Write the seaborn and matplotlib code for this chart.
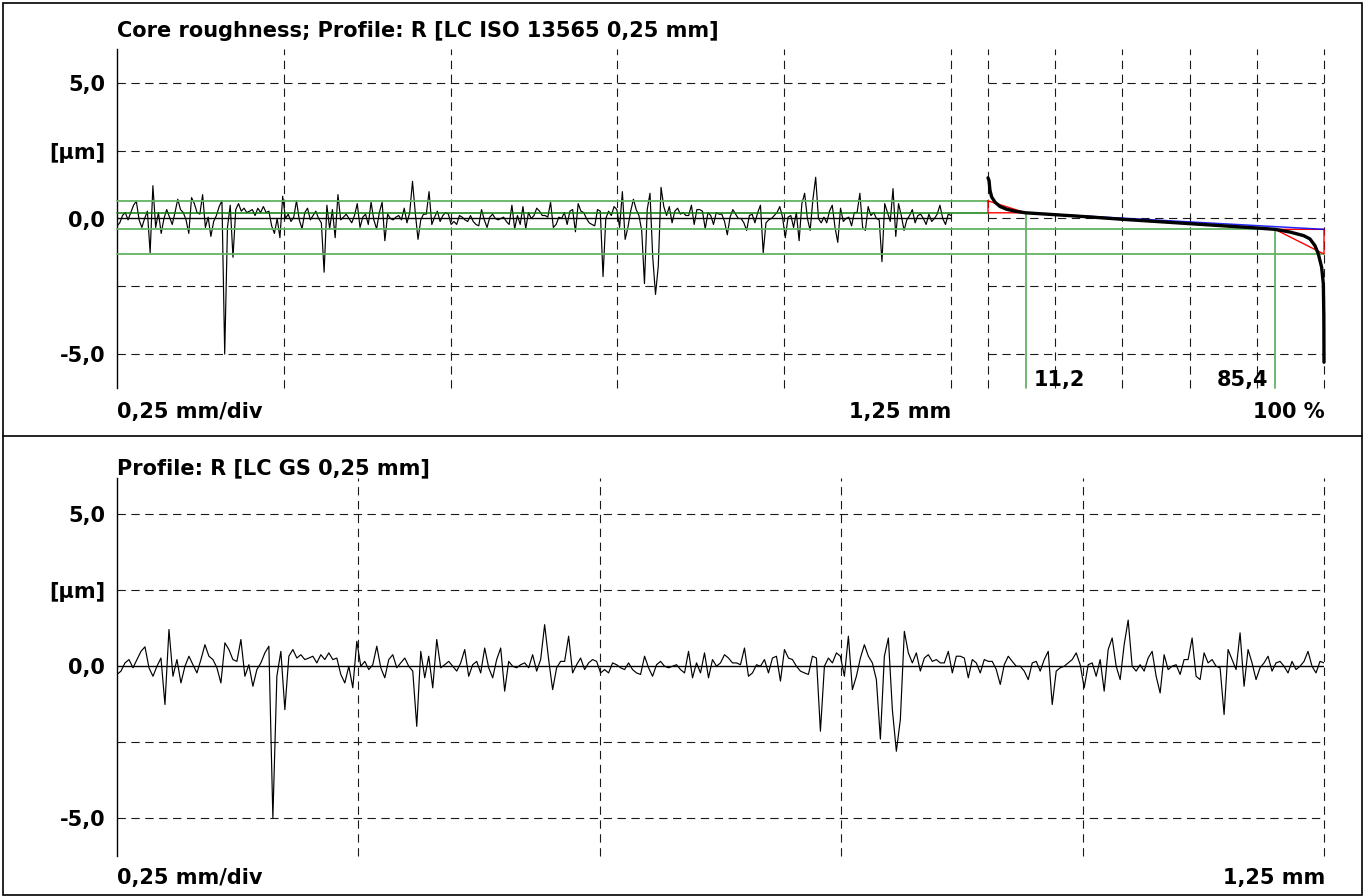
import numpy as np
import matplotlib
matplotlib.use("Agg")
import matplotlib.pyplot as plt
import seaborn as sns
from matplotlib.patches import Rectangle
from matplotlib.lines import Line2D

# ---------------- data ----------------
profile_length_mm = 1.25
profile_um = [
    -0.27, -0.16, 0.11, 0.22, -0.05, 0.22, 0.49, 0.64, -0.05, -0.33,
    0.00, 0.27, -1.26, 1.21, -0.33, 0.22, -0.55, 0.00, 0.33, 0.05,
    -0.22, 0.22, 0.71, 0.33, 0.22, -0.05, -0.55, 0.77, 0.55, 0.22,
    0.16, 0.88, -0.33, 0.05, -0.66, -0.11, 0.11, 0.44, 0.66, -5.00,
    -0.33, 0.49, -1.43, 0.33, 0.55, 0.27, 0.38, 0.22, 0.27, 0.33,
    0.11,
    0.38, 0.22, 0.44, 0.22, 0.27, -0.27, -0.55, 0.00, -0.71, 0.82,
    0.00, 0.16, -0.11, 0.05, 0.66, -0.05, -0.38, 0.22, 0.38, -0.05,
    0.11, 0.27, 0.00, -0.16, -1.98, 0.49, -0.38, 0.33, -0.71, 0.88,
    -0.05, 0.05, 0.16, 0.00, -0.16, 0.11, 0.55, -0.33, 0.05, 0.16,
    -0.22, 0.60, -0.05, -0.38, 0.22, 0.60, -0.82, 0.16, 0.00, -0.05,
    0.05, 0.11, -0.05, 0.38, -0.16, 0.22, 1.37, 0.22, -0.77, -0.05,
    0.16, 0.16, 0.99, -0.22, 0.05, 0.27, -0.11, 0.11, 0.22, 0.16,
    -0.22, -0.11, -0.22, 0.11, 0.05, -0.05, -0.11, 0.11, -0.11, -0.22,
    -0.27, 0.33, -0.05, -0.33, 0.05, 0.16, 0.00, -0.05, 0.00, 0.05,
    -0.11, -0.22, 0.49, -0.38, 0.11, -0.22, 0.44, -0.38, 0.22, 0.00,
    0.11, 0.38, 0.27, 0.11, 0.11, 0.05, 0.60, -0.33, -0.22, 0.05,
    0.00, 0.22, -0.22, 0.27, 0.33, -0.49, 0.55, 0.27, 0.22, 0.00,
    -0.16, -0.22, -0.27, 0.33, 0.27, -2.14, 0.00, 0.27, 0.11, 0.44,
    0.33, -0.33, 0.99, -0.77, -0.33, 0.27, 0.71, 0.33, 0.11, -0.44,
    -2.40, 0.33, 0.93, -1.43, -2.80, -1.76, 1.15, 0.44, 0.11, 0.44,
    -0.16, 0.27, 0.38, 0.16, 0.22, 0.11, 0.11, 0.49, -0.22, 0.33,
    0.33, 0.27, -0.38, 0.22, 0.11, -0.22, 0.22, 0.16, 0.16, -0.11,
    -0.60, 0.05, 0.33, 0.16, 0.00, 0.00, -0.16, -0.44, 0.11, 0.16,
    -0.16, 0.22, 0.49, -1.26, -0.16, -0.05, 0.00, 0.11, 0.22, 0.44,
    0.05, -0.71, 0.05, 0.11, -0.33, 0.22, -0.82, 0.55, 0.93, 0.00,
    -0.44, 0.71, 1.52, 0.00, -0.16, 0.05, -0.16, 0.27, 0.49, -0.33,
    -0.88, 0.38, -0.11, 0.00, 0.05, -0.27, 0.22, 0.22, 0.93, -0.33,
    -0.44, 0.44, 0.11, 0.22, 0.00, -0.05, -1.59, 0.55, 0.22, -0.11,
    1.10, -0.66, 0.55, 0.11, -0.44, -0.05, 0.11, 0.33, -0.16, 0.11,
    0.16, 0.00, -0.22, 0.16, -0.11, 0.00, 0.16, 0.49, 0.00, -0.22,
    0.16, 0.11,
]

# Abbott (material ratio) curve
abbott_pct = [0.0, 0.3, 0.6, 1.1, 2.1, 3.6, 5.6, 8.0, 11.2, 20, 30, 40, 50,
              60, 70, 80, 85.4, 89.9, 93.9, 95.8, 97.3, 98.3, 99.3, 99.8,
              99.95, 100]
abbott_um = [1.50, 1.40, 1.03, 0.79, 0.60, 0.44, 0.34, 0.27, 0.21, 0.14,
             0.06, -0.03, -0.11, -0.19, -0.27, -0.35, -0.40, -0.50, -0.63,
             -0.75, -1.00, -1.30, -1.80, -2.41, -3.60, -5.30]

mr1, mr2 = 11.2, 85.4
lvl_peak, lvl_core_top, lvl_core_bot, lvl_valley = 0.65, 0.21, -0.40, -1.31

x_ticks_mm = [0.25, 0.50, 0.75, 1.00, 1.25]
pct_ticks = [0, 20, 40, 60, 80, 100]
y_ticks = [-5, -2.5, 0, 2.5, 5]
y_ticklabels = ["-5,0", "", "0,0", "[µm]", "5,0"]

title_top = "Core roughness; Profile: R [LC ISO 13565 0,25 mm]"
title_bottom = "Profile: R [LC GS 0,25 mm]"

# ---------------- style ----------------
sns.set_theme(style="white")
plt.rcParams["font.family"] = ["DejaVu Sans"]
plt.rcParams["font.weight"] = "bold"
plt.rcParams["text.color"] = "black"
FS = 15

W, H = 1372, 896
fig = plt.figure(figsize=(W / 100, H / 100), dpi=100)


def frac(x0, y0, x1, y1):
    return [x0 / W, 1 - y1 / H, (x1 - x0) / W, (y1 - y0) / H]


ax1 = fig.add_axes(frac(117, 49, 951, 388))
ax2 = fig.add_axes(frac(988, 49, 1324, 388))
ax3 = fig.add_axes(frac(117, 478, 1324, 856))

GRID = dict(color="#1a1a1a", lw=0.8, linestyle=(0, (7.5, 5)))

for ax in (ax1, ax2, ax3):
    ax.set_facecolor("none")
    for s in ax.spines.values():
        s.set_visible(False)
    ax.tick_params(length=0, labelsize=FS, pad=8.5, labelcolor="black")
    ax.set_xlabel("")
    ax.set_ylabel("")

ax1.set_xlim(0, profile_length_mm)
ax1.set_ylim(-6.25, 6.25)
ax2.set_xlim(0, 100)
ax2.set_ylim(-6.25, 6.25)
ax3.set_xlim(0, profile_length_mm)
ax3.set_ylim(-6.25, 6.2)

for ax in (ax1, ax3):
    ax.spines["left"].set_visible(True)
    ax.spines["left"].set_color("black")
    ax.spines["left"].set_linewidth(1.0)
    ax.set_yticks(y_ticks)
    ax.set_yticklabels(y_ticklabels, fontweight="bold", color="black")
    ax.set_xticks(x_ticks_mm)
    ax.set_xticklabels([])
    for xv in x_ticks_mm:
        ax.axvline(xv, zorder=0.5, clip_on=False, **GRID)
    for yv in y_ticks:
        if yv != 0:
            ax.axhline(yv, zorder=0.5, **GRID)

ax2.set_xticks(pct_ticks)
ax2.set_xticklabels([])
ax2.set_yticks([])
for xv in pct_ticks:
    ax2.axvline(xv, zorder=0.5, clip_on=False, **GRID)
for yv in y_ticks:
    ax2.axhline(yv, zorder=0.5, **GRID)

# ---------------- profiles ----------------
x_mm = np.linspace(0, profile_length_mm, len(profile_um))
sns.lineplot(x=x_mm, y=profile_um, ax=ax1, color="black", lw=0.85,
             estimator=None, sort=False, zorder=3)
sns.lineplot(x=x_mm, y=profile_um, ax=ax3, color="black", lw=0.85,
             estimator=None, sort=False, zorder=3)
ax1.axhline(0, color="black", lw=1.0, zorder=2)
ax3.axhline(0, color="black", lw=1.0, zorder=2)

# ---------------- Rk construction ----------------
fig.canvas.draw()
disp = ax1.transData.transform((0, 0))
x_start = ax2.transData.inverted().transform(disp)[0]

light_g = "#63b363"
dark_g = "#0a7d0a"
ybot = ax2.get_ylim()[0]
kw = dict(clip_on=False, zorder=1.5)
ax2.plot([x_start, 0], [lvl_peak] * 2, color=light_g, lw=1.3, **kw)
ax2.plot([x_start, 0], [lvl_core_top] * 2, color=dark_g, lw=1.1, **kw)
ax2.plot([x_start, mr2], [lvl_core_bot] * 2, color=light_g, lw=1.3, **kw)
ax2.plot([x_start, 100], [lvl_valley] * 2, color=light_g, lw=1.3, **kw)
ax2.plot([mr1, mr1], [lvl_core_top, ybot], color=light_g, lw=1.3, **kw)
ax2.plot([mr2, mr2], [lvl_core_bot, ybot], color=light_g, lw=1.3, **kw)

ax2.plot([0, 0, mr1, 0], [lvl_peak, lvl_core_top, lvl_core_top, lvl_peak],
         color="red", lw=1.0, clip_on=False, zorder=2.5)
ax2.plot([mr2, 100, 100, mr2], [lvl_core_bot, lvl_core_bot, lvl_valley, lvl_core_bot],
         color="red", lw=1.0, clip_on=False, zorder=2.5)
ax2.plot([mr1, 100], [lvl_core_top, lvl_core_bot], color="blue", lw=1.1,
         alpha=0.85, clip_on=False, zorder=2.8)

sns.lineplot(x=abbott_pct, y=abbott_um, ax=ax2, color="black", lw=2.4,
             estimator=None, sort=False, zorder=3)
for ln in ax2.get_lines():
    ln.set_clip_on(False)

# ---------------- texts ----------------
def ftext(x, y, s, ha="left"):
    fig.text(x / W, 1 - y / H, s, ha=ha, va="baseline", fontsize=FS,
             fontweight="bold", color="black")

ftext(117, 37, title_top)
ftext(117, 418, "0,25 mm/div")
ftext(951, 418, "1,25 mm", ha="right")
ftext(1325, 418, "100 %", ha="right")
ftext(1034, 386, "11,2")
ftext(1268, 386, "85,4", ha="right")

ftext(117, 474, title_bottom)
ftext(117, 884, "0,25 mm/div")
ftext(1325, 884, "1,25 mm", ha="right")

# ---------------- frame ----------------
fig.add_artist(Rectangle((2.5 / W, 1.5 / H), (1362 - 2.5) / W, (894 - 2.5) / H,
                         transform=fig.transFigure, fill=False,
                         edgecolor="black", lw=1.2))
fig.add_artist(Line2D([2.5 / W, 1362 / W], [1 - 436 / H] * 2,
                      transform=fig.transFigure, color="black", lw=1.2))

fig.savefig("out.png", dpi=100, facecolor="white")
